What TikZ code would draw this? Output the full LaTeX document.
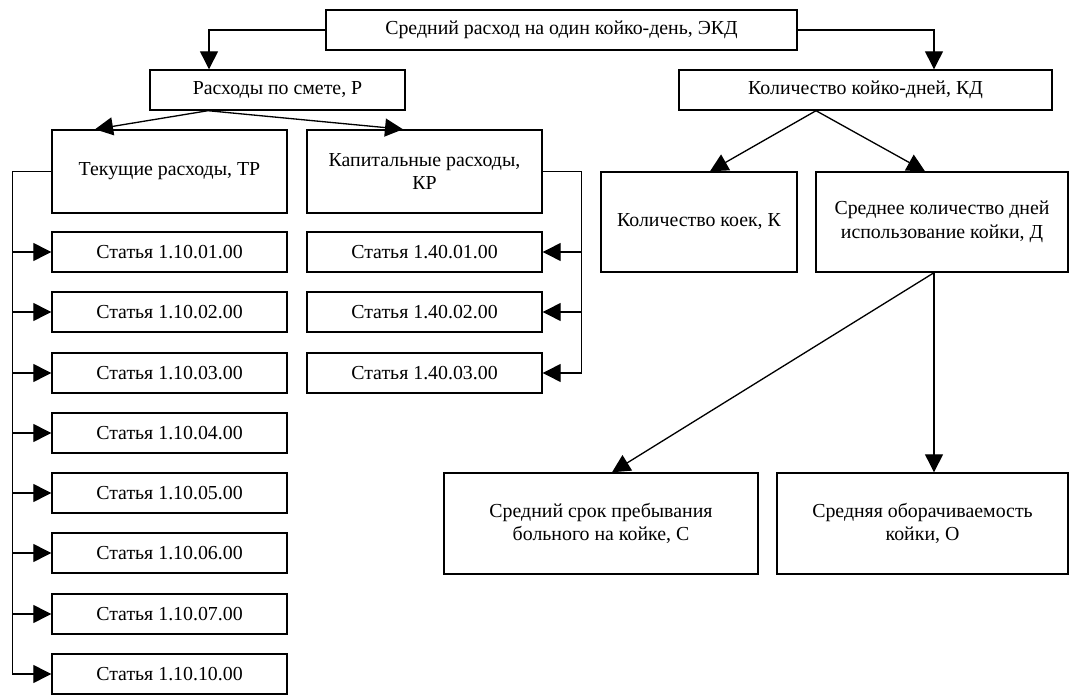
\documentclass[tikz,border=0pt]{standalone}
\usepackage{fontspec}
\setmainfont{Liberation Serif}
\usetikzlibrary{arrows.meta}
\tikzset{
  blok/.style 2 args={draw,line width=0.8pt,align=center,inner sep=1pt,
    minimum width=#1*0.02cm,minimum height=#2*0.02cm,
    font=\fontsize{11.3}{13.5}\selectfont},
  strel/.style={-{Triangle[length=0.36cm,width=0.36cm]},line width=0.75pt}
}
\begin{document}
\begin{tikzpicture}[x=0.02cm,y=-0.02cm]
\useasboundingbox (0,0) rectangle (1071,695);
\node[blok={471}{40}] (top) at (561.5,30) {Средний расход на один койко-день, ЭКД};
\node[blok={255}{40}] (rash) at (277.5,90) {Расходы по смете, Р};
\node[blok={373}{40}] (kd) at (865.5,90) {Количество койко-дней, КД};
\node[blok={235}{83}] (tek) at (169.5,171.5) {Текущие расходы, ТР};
\node[blok={235}{83}] (kap) at (424.5,171.5) {Капитальные расходы,\\КР};
\foreach \n/\y [count=\i] in {01/252,02/312,03/373,04/433,05/493,06/553,07/614,10/674}
  \node[blok={235}{40}] (s\i) at (169.5,\y) {Статья 1.10.\n.00};
\foreach \n/\y [count=\i] in {01/252,02/312,03/373}
  \node[blok={235}{40}] (k\i) at (424.5,\y) {Статья 1.40.\n.00};
\node[blok={196}{100}] (koek) at (699,222) {Количество коек, К};
\node[blok={252}{100}] (dney) at (942,222) {Среднее количество дней\\использование койки, Д};
\node[blok={314}{101}] (srok) at (601,523.5) {Средний срок пребывания\\больного на койке, С};
\node[blok={291}{101}] (obor) at (922.5,523.5) {Средняя оборачиваемость\\койки, О};

\draw[strel] (top.west) -| ([xshift=-1.37cm]rash.north);
\draw[strel] (top.east) -| ([xshift=1.37cm]kd.north);
\draw[strel] ([xshift=-1.39cm]rash.south) -- ([xshift=-1.49cm]tek.north);
\draw[strel] ([xshift=-1.39cm]rash.south) -- ([xshift=-0.43cm]kap.north);
\draw[strel] ([xshift=-0.99cm]kd.south) -- ([xshift=0.22cm]koek.north);
\draw[strel] ([xshift=-0.99cm]kd.south) -- ([xshift=-0.34cm]dney.north);
\coordinate (d) at ([xshift=-0.16cm]dney.south);
\draw[strel] (d) -- ([xshift=0.22cm]srok.north);
\draw[strel] (d) -- (d |- obor.north);
\foreach \i in {1,...,8}
  \draw[strel] (tek.west) -- ++(-39,0) |- (s\i.west);
\foreach \i in {1,2,3}
  \draw[strel] (kap.east) -- ++(39,0) |- (k\i.east);
\end{tikzpicture}
\end{document}
